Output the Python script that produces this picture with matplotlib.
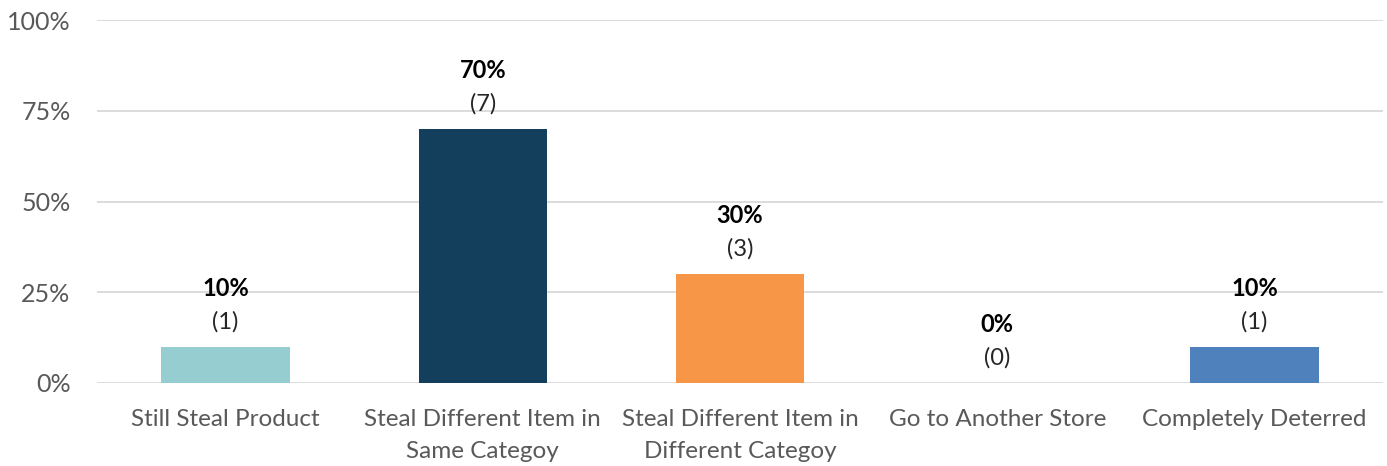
#!/usr/bin/env python3

import matplotlib
matplotlib.use('Agg')
from matplotlib import pyplot as plt
from matplotlib.ticker import FuncFormatter

categories = ['Still Steal Product', 'Steal Different Item in\nSame Categoy',
              'Steal Different Item in\nDifferent Categoy', 'Go to Another Store',
              'Completely Deterred']
percents = [10, 70, 30, 0, 10]
counts = [1, 7, 3, 0, 1]
colors = ['#96CDD0', '#133F5C', '#F79646', '#4BACC6', '#4F81BD']


def plot_bars():
    plt.rcParams['font.family'] = ['Lato', 'DejaVu Sans']
    fig = plt.figure(figsize=(13.87, 4.66), dpi=100)
    ax = fig.add_axes([97 / 1387, 1 - 383 / 466, (1383 - 97) / 1387, (383 - 20) / 466])

    x = list(range(len(categories)))
    ax.bar(x, percents, width=0.5, color=colors, zorder=2)

    for xi, p, c in zip(x, percents, counts):
        ax.annotate('(%d)' % c, (xi, p), xytext=(0, 18), textcoords='offset points',
                    ha='center', va='center', fontsize=17, color='#262626')
        ax.annotate('%d%%' % p, (xi, p), xytext=(0, 42), textcoords='offset points',
                    ha='center', va='center', fontsize=17, fontweight='bold', color='black')

    ax.set_xlim(-0.5, len(categories) - 0.5)
    ax.set_ylim(0, 100)
    ax.set_yticks([0, 25, 50, 75, 100])
    ax.yaxis.set_major_formatter(FuncFormatter(lambda v, pos: '%d%%' % v))
    ax.set_xticks(x)
    ax.set_xticklabels(categories, fontsize=17.5, color='#595959', linespacing=1.6)
    ax.tick_params(axis='y', labelsize=18, labelcolor='#595959', length=0, pad=19)
    ax.tick_params(axis='x', length=0, pad=19)
    ax.grid(axis='y', color='#D9D9D9', linewidth=1.3, zorder=0)
    for s in ax.spines.values():
        s.set_visible(False)

    fig.savefig('out.png', dpi=100)


def main():
    plot_bars()


if __name__ == "__main__":
    main()
